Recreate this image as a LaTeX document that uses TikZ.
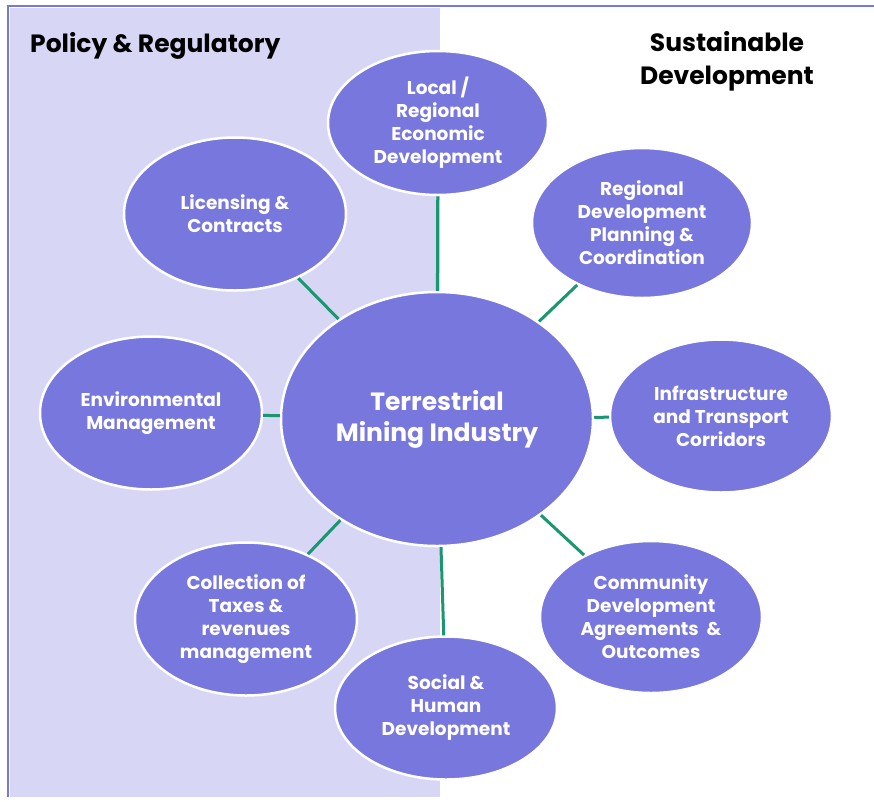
\documentclass[tikz,border=0pt]{standalone}
\usepackage{fontspec}
\setmainfont{Poppins}
\usetikzlibrary{shapes.geometric}
\definecolor{bubblefill}{RGB}{119,119,221}
\definecolor{panelfill}{RGB}{215,215,245}
\definecolor{framecol}{RGB}{120,120,216}
\definecolor{spokecol}{RGB}{26,150,112}
\tikzset{
	bubble/.style={ellipse, fill=bubblefill, draw=white, line width=2.5pt, text=white, align=center, inner sep=0pt,
		font=\bfseries\fontsize{18.5}{23}\selectfont, minimum width=222pt, minimum height=153pt},
	spoke/.style={draw=spokecol, line width=3pt},
	heading/.style={font=\bfseries\fontsize{25}{33}\selectfont, align=center, inner sep=0pt}
}
\begin{document}
\begin{tikzpicture}[x=1pt, y=-1pt]
	\useasboundingbox (0,0) rectangle (874,801);
	\fill[panelfill] (10,8) rectangle (440,797);
	\draw[framecol, line width=2.5pt] (874,6) -- (8,6) -- (8,797);
	\node[heading, anchor=west] (policy) at (30,46)  {Policy \& Regulatory};
	\node[heading]              (sustain) at (727,61) {Sustainable\\Development};
	% outer bubbles
	\node[bubble] (local)   at (438,123) [minimum width=220pt, minimum height=144pt] {Local /\\Regional\\Economic\\Development};
	\node[bubble] (licence) at (235,214) {Licensing \&\\Contracts};
	\node[bubble] (planning) at (642,223) [minimum width=220pt, minimum height=150pt] {Regional\\Development\\Planning \&\\Coordination};
	\node[bubble] (environ) at (151,413) {Environmental\\Management};
	\node[bubble] (infra)   at (721,416) {Infrastructure\\and Transport\\Corridors};
	\node[bubble] (taxes)   at (246,619) {Collection of\\Taxes \&\\revenues\\management};
	\node[bubble] (commun)  at (651,617) [minimum height=152pt] {Community\\Development\\Agreements~ \&\\Outcomes};
	\node[bubble] (social)  at (446,708) [minimum width=222pt, minimum height=143pt] {Social \&\\Human\\Development};
	% centre
	\node[bubble, minimum width=312pt, minimum height=254pt, font=\bfseries\fontsize{25}{31}\selectfont] (mining) at (437,419) {Terrestrial\\Mining Industry};
	\foreach \n in {local, licence, planning, environ, infra, taxes, commun, social}
		\draw[spoke] (mining) -- (\n);
\end{tikzpicture}
\end{document}
